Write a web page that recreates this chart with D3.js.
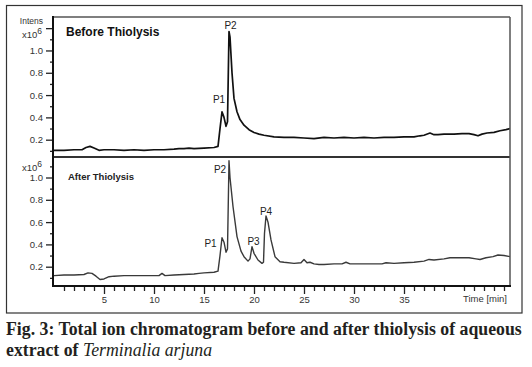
<!DOCTYPE html>
<html>
<head>
<meta charset="utf-8">
<script src="https://d3js.org/d3.v7.min.js"></script>
<style>
  body { margin:0; background:#fff; }
  svg { display:block; }
  .tick text { font-family: Arial, "Liberation Sans", sans-serif; }
</style>
</head>
<body>
<div id="chart"></div>
<script>
// ---- data (time in min, intensity x10^6) ----
const beforeTrace = [
  [0,0.105],[1,0.105],[2,0.11],[2.8,0.11],[3.2,0.13],[3.6,0.14],[4.0,0.125],[4.5,0.105],
  [5,0.11],[6,0.11],[7,0.105],[8,0.11],[9,0.105],[10,0.11],[11,0.11],[12,0.115],
  [12.5,0.12],[13,0.12],[13.5,0.125],[14,0.12],[15,0.125],[16,0.13],[16.4,0.14],
  [16.6,0.3],[16.8,0.45],[17.0,0.4],[17.2,0.32],[17.35,0.36],[17.5,1.17],[17.6,1.12],
  [17.8,0.8],[18.0,0.57],[18.3,0.45],[18.6,0.38],[19.0,0.33],[19.5,0.29],[20,0.265],
  [20.5,0.25],[21,0.24],[22,0.225],[23,0.22],[24,0.22],[25,0.215],[26,0.21],[27,0.22],
  [28,0.215],[29,0.22],[30,0.215],[31,0.22],[32,0.215],[33,0.22],[34,0.22],[35,0.225],
  [36,0.225],[36.6,0.235],[37,0.24],[37.6,0.26],[38.0,0.245],[38.4,0.245],[39,0.25],
  [40,0.25],[40.8,0.255],[41.5,0.255],[42.0,0.245],[42.4,0.235],[42.8,0.25],[43.3,0.26],
  [44,0.265],[44.6,0.28],[45.2,0.29],[45.6,0.30]
];

const afterTrace = [
  [0,0.12],[1,0.125],[2,0.125],[3,0.13],[3.4,0.145],[3.8,0.14],[4.2,0.115],[4.6,0.085],
  [5.0,0.09],[5.5,0.11],[6,0.115],[7,0.12],[8,0.12],[9,0.12],[10,0.12],[10.5,0.12],
  [10.8,0.14],[11.1,0.12],[12,0.125],[13,0.13],[14,0.135],[14.5,0.14],[15,0.145],
  [16,0.15],[16.4,0.16],[16.6,0.3],[16.8,0.46],[17.0,0.42],[17.2,0.33],[17.35,0.36],
  [17.5,1.15],[17.6,1.0],[17.9,0.74],[18.3,0.47],[18.7,0.34],[19.0,0.29],[19.4,0.25],
  [19.6,0.27],[19.8,0.38],[20.0,0.32],[20.4,0.26],[20.8,0.23],[20.95,0.24],[21.05,0.5],
  [21.2,0.655],[21.4,0.6],[21.7,0.44],[22.1,0.29],[22.6,0.245],[23,0.24],[24,0.23],
  [24.7,0.235],[25.0,0.265],[25.3,0.235],[25.6,0.24],[26,0.225],[26.5,0.22],[27,0.22],
  [28,0.225],[28.8,0.225],[29.2,0.24],[29.6,0.225],[30,0.225],[31,0.225],[32,0.225],
  [32.8,0.225],[33.2,0.235],[34,0.23],[35,0.235],[36,0.24],[37,0.25],[37.5,0.265],
  [38,0.26],[39,0.27],[39.6,0.28],[40.5,0.28],[41.5,0.28],[42.2,0.27],[42.6,0.265],
  [43.2,0.28],[43.9,0.29],[44.4,0.305],[45,0.3],[45.6,0.29]
];

// label anchor (time, intensity) for each peak name
const beforePeaks = [
  { name: "P1", t: 16.5, v: 0.53 },
  { name: "P2", t: 17.65, v: 1.19 }
];
const afterPeaks = [
  { name: "P1", t: 15.65, v: 0.377 },
  { name: "P2", t: 16.6, v: 1.043 },
  { name: "P3", t: 19.95, v: 0.395 },
  { name: "P4", t: 21.2, v: 0.664 }
];

const timeTicks = [5, 10, 15, 20, 25, 30, 35];
const minorTimeTicks = d3.range(1, 46);
const topMajorTicks = [0.2, 0.4, 0.6, 0.8, 1.0, 1.2];
const botMajorTicks = [0.2, 0.4, 0.6, 0.8, 1.0];
const minorIntensTicks = [0.1, 0.3, 0.5, 0.7, 0.9, 1.1];

const panelTitles = ["Before Thiolysis", "After Thiolysis"];
const captionLine1 = "Fig. 3: Total ion chromatogram before and after thiolysis of aqueous";
const captionLine2a = "extract of ";
const captionLine2b = "Terminalia arjuna";

// ---- layout ----
const W = 532, H = 367;
const left = 53, right = 510;
const topY0 = 17, midY = 157, botY1 = 286;

const svg = d3.select("#chart").append("svg").attr("width", W).attr("height", H);

const x = d3.scaleLinear().domain([0, 45.6]).range([left + 1, right]);
const yTop = d3.scaleLinear().domain([0, 1.3]).range([162, 17]);
const yBot = d3.scaleLinear().domain([0, 1.18]).range([289, 289 - 1.18 * 111.5]);

const defs = svg.append("defs");
defs.append("clipPath").attr("id", "clipTop").append("rect")
  .attr("x", left).attr("y", topY0).attr("width", right - left).attr("height", midY - topY0);
defs.append("clipPath").attr("id", "clipBot").append("rect")
  .attr("x", left).attr("y", midY).attr("width", right - left).attr("height", botY1 - midY);

// outer frame
svg.append("rect")
  .attr("x", 6.5).attr("y", 5.5).attr("width", 515.5).attr("height", 307.5)
  .attr("fill", "none").attr("stroke", "#333").attr("stroke-width", 1.2);

const line = (ys) => d3.line().x(d => x(d[0])).y(d => ys(d[1]));

// traces
svg.append("path").datum(beforeTrace)
  .attr("clip-path", "url(#clipTop)")
  .attr("d", line(yTop))
  .attr("fill", "none").attr("stroke", "#111").attr("stroke-width", 1.7)
  .attr("stroke-linejoin", "round");

svg.append("path").datum(afterTrace)
  .attr("clip-path", "url(#clipBot)")
  .attr("d", line(yBot))
  .attr("fill", "none").attr("stroke", "#3a3a3a").attr("stroke-width", 1.4)
  .attr("stroke-linejoin", "round");

// panel frames
svg.append("line").attr("x1", left).attr("x2", right).attr("y1", topY0).attr("y2", topY0)
  .attr("stroke", "#555").attr("stroke-width", 1.5);
svg.append("line").attr("x1", left).attr("x2", right).attr("y1", midY).attr("y2", midY)
  .attr("stroke", "#333").attr("stroke-width", 2);
svg.append("line").attr("x1", right).attr("x2", right).attr("y1", topY0).attr("y2", botY1)
  .attr("stroke", "#555").attr("stroke-width", 1.5);

// y axes
function yAxis(scale, majors) {
  const gMaj = svg.append("g").attr("transform", `translate(${left},0)`)
    .call(d3.axisLeft(scale).tickValues(majors).tickSize(7).tickPadding(3)
      .tickFormat(d => d > 1.1 ? "" : d3.format(".1f")(d)));
  const gMin = svg.append("g").attr("transform", `translate(${left},0)`)
    .call(d3.axisLeft(scale).tickValues(minorIntensTicks).tickSize(3).tickFormat(""));
  [gMaj, gMin].forEach(g => {
    g.select(".domain").remove();
    g.selectAll(".tick line").attr("stroke", "#222").attr("stroke-width", 1.3);
  });
  gMaj.selectAll(".tick text").attr("font-size", 9.5).attr("fill", "#333");
}
yAxis(yTop, topMajorTicks);
yAxis(yBot, botMajorTicks);

svg.append("line").attr("x1", left).attr("x2", left).attr("y1", topY0 - 1).attr("y2", botY1 + 1)
  .attr("stroke", "#111").attr("stroke-width", 2);

// x axis
const gx = svg.append("g").attr("transform", `translate(0,${botY1 + 1})`)
  .call(d3.axisBottom(x).tickValues(timeTicks).tickSize(7).tickPadding(2).tickFormat(d3.format("d")));
const gxMin = svg.append("g").attr("transform", `translate(0,${botY1 + 1})`)
  .call(d3.axisBottom(x).tickValues(minorTimeTicks.filter(t => t % 5 !== 0 || t === 45))
    .tickSize(4).tickFormat(""));
[gx, gxMin].forEach(g => {
  g.select(".domain").remove();
  g.selectAll(".tick line").attr("stroke", "#222").attr("stroke-width", 1.3);
});
gx.selectAll(".tick text").attr("font-size", 9.5).attr("fill", "#333");

svg.append("line").attr("x1", left - 1).attr("x2", right + 1).attr("y1", botY1).attr("y2", botY1)
  .attr("stroke", "#111").attr("stroke-width", 2);

const sans = "Arial, 'Liberation Sans', sans-serif";

svg.append("text").attr("x", 507).attr("y", 302).attr("text-anchor", "end")
  .attr("font-family", sans).attr("font-size", 9.5).attr("fill", "#333").text("Time [min]");

// axis unit labels
svg.append("text").attr("x", 43).attr("y", 23.5).attr("text-anchor", "end")
  .attr("font-family", sans).attr("font-size", 8.5).attr("fill", "#333").text("Intens");

function unitLabel(yBase) {
  const t = svg.append("text").attr("x", 22).attr("y", yBase)
    .attr("font-family", sans).attr("font-size", 9.5).attr("fill", "#333");
  t.append("tspan").text("x10");
  t.append("tspan").attr("dy", -4).attr("font-size", 8.5).text("6");
}
unitLabel(38);
unitLabel(170.5);

// panel titles
svg.append("text").attr("x", 66).attr("y", 36)
  .attr("font-family", sans).attr("font-size", 12).attr("font-weight", "bold")
  .attr("fill", "#111").text(panelTitles[0]);
svg.append("text").attr("x", 68).attr("y", 180)
  .attr("font-family", sans).attr("font-size", 9.5).attr("font-weight", "bold")
  .attr("fill", "#222").text(panelTitles[1]);

// peak labels
svg.selectAll("text.pk-top").data(beforePeaks).enter().append("text")
  .attr("class", "pk-top")
  .attr("x", d => x(d.t)).attr("y", d => yTop(d.v)).attr("text-anchor", "middle")
  .attr("font-family", sans).attr("font-size", 10).attr("fill", "#222").text(d => d.name);
svg.selectAll("text.pk-bot").data(afterPeaks).enter().append("text")
  .attr("class", "pk-bot")
  .attr("x", d => x(d.t)).attr("y", d => yBot(d.v)).attr("text-anchor", "middle")
  .attr("font-family", sans).attr("font-size", 10).attr("fill", "#222").text(d => d.name);

// caption
const serif = "'Liberation Serif', 'DejaVu Serif', serif";
const cap1 = svg.append("text").attr("x", 6).attr("y", 335)
  .attr("font-family", serif).attr("font-weight", "bold").attr("font-size", 16)
  .attr("fill", "#231f20").text(captionLine1);
// scale to the reference width
const w1 = cap1.node().getComputedTextLength();
const capSize = 16 * 516 / w1;
cap1.attr("font-size", capSize);

const cap2 = svg.append("text").attr("x", 6).attr("y", 356)
  .attr("font-family", serif).attr("font-weight", "bold").attr("font-size", capSize)
  .attr("fill", "#231f20");
cap2.append("tspan").text(captionLine2a);
cap2.append("tspan").attr("font-style", "italic").attr("font-weight", "normal").text(captionLine2b);
</script>
</body>
</html>
